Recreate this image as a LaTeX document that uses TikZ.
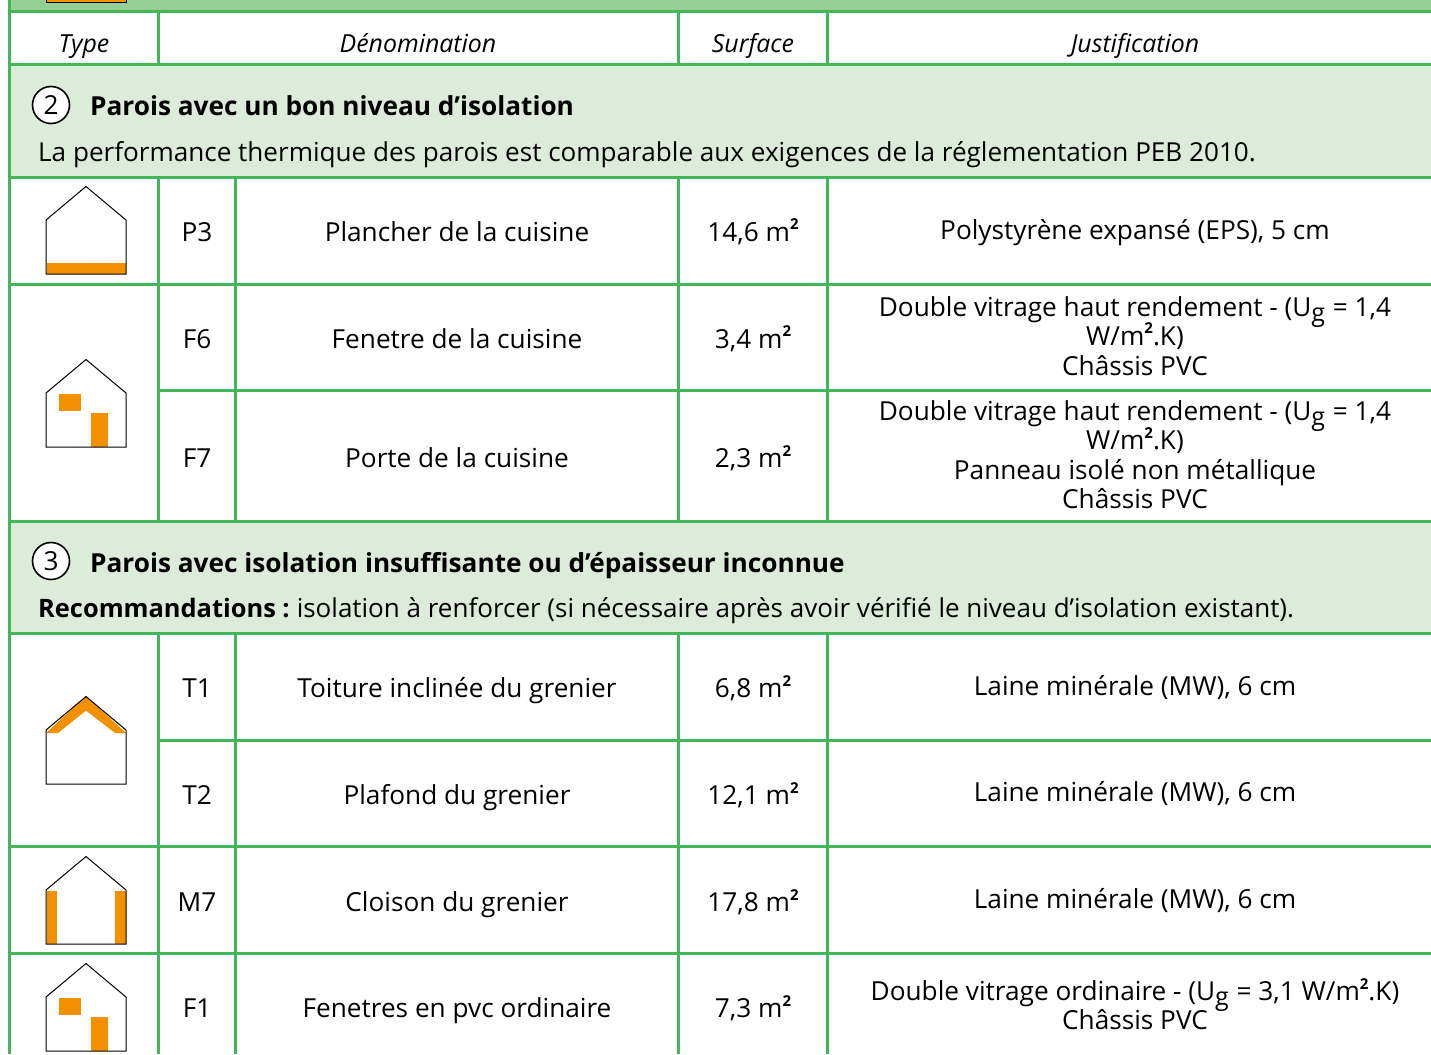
\documentclass[tikz,border=0pt]{standalone}
\usepackage{fontspec}
\setmainfont{Open Sans}
\definecolor{gline}{HTML}{45B658}
\definecolor{gband}{HTML}{DBECD8}
\definecolor{gtop}{HTML}{94CF94}
\definecolor{orng}{HTML}{F39000}
\newcommand{\txt}[1]{\fontsize{26.2}{30}\selectfont #1}
\newcommand{\sq}{\raisebox{0.42em}{\fontsize{15}{15}\selectfont\bfseries 2}}
\newcommand{\Ug}{U\raisebox{-0.22em}{\fontsize{25}{25}\selectfont g}\hspace{1pt}}
\tikzset{
 x=1pt,y=-1pt,
 grid/.style={draw=gline,line width=3pt},
 cell/.style={inner sep=0pt,anchor=base,text=black,font=\txt{}},
 lefttxt/.style={inner sep=0pt,anchor=base west,text=black,font=\fontsize{26.1}{30}\selectfont},
 head/.style={inner sep=0pt,anchor=base,text=black,font=\fontsize{24.9}{28}\selectfont\itshape},
 bold/.style={inner sep=0pt,anchor=base west,text=black,font=\fontsize{26.2}{30}\selectfont\bfseries},
 num/.style={circle,draw=black,line width=1.6pt,fill=white,minimum size=37pt,inner sep=0pt,font=\txt{}},
 hs/.style={draw=black,line width=1pt,line join=miter},
 ins/.style={fill=orng,draw=none},
}
\newcommand{\house}[1]{% apex y
 \draw[hs] (46,#1+33.5) -- (86,#1) -- (126,#1+33.5) -- (126,#1+87.5) -- (46,#1+87.5) -- cycle;
}
\newcommand{\wdws}[1]{%
 \fill[ins] (59,#1+34) rectangle (81,#1+51);
 \fill[ins] (91,#1+53) rectangle (108,#1+87);
 \house{#1}
}
\begin{document}
\begin{tikzpicture}
\useasboundingbox (0,0) rectangle (1431,1054);
\fill[white] (0,0) rectangle (1431,1054);
% bands
\fill[gtop] (9,0) rectangle (1431,12);
\fill[gband] (9,65) rectangle (1431,177);
\fill[gband] (9,521) rectangle (1431,633);
% top house remnant
\fill[orng] (46,-2) rectangle (126,3);
\draw[hs] (46,-2) -- (46,3) -- (126,3) -- (126,-2);
% grid
\foreach \y in {12,65,177,284,521,633,846,953} \draw[grid] (8,\y) -- (1431,\y);
\foreach \y in {390,740} \draw[grid] (158,\y) -- (1431,\y);
\draw[grid] (9,0) -- (9,1054);
\foreach \x in {158,678,827} {
 \draw[grid] (\x,12) -- (\x,65);
 \draw[grid] (\x,177) -- (\x,521);
 \draw[grid] (\x,633) -- (\x,1054);
}
\draw[grid] (235,177) -- (235,521);
\draw[grid] (235,633) -- (235,1054);
% header
\node[head] (hType) at (84,52.5) {Type};
\node[head] (hDen) at (418,52.5) {Dénomination};
\node[head] (hSur) at (753,52.5) {Surface};
\node[head] (hJus) at (1135,52.5) {Justification};
% section 2
\node[num] (n2) at (51,105) {2};
\node[bold] (s2) at (90,116) {Parois avec un bon niveau d’isolation};
\node[lefttxt] (s2b) at (38,161) {La performance thermique des parois est comparable aux exigences de la réglementation PEB 2010.};
% section 3
\node[num] (n3) at (51,561) {3};
\node[bold] (s3) at (90,572) {Parois avec isolation insuffisante ou d’épaisseur inconnue};
\node[lefttxt] (s3b) at (38,617) {{\fontsize{25.4}{30}\selectfont\bfseries Recommandations :}\hspace{-2pt}{\fontsize{26}{30}\selectfont{} isolation à renforcer (si nécessaire après avoir vérifié le niveau d’isolation existant).}};
% houses
\fill[ins] (47,263) rectangle (126,274);
\house{186.5}
\wdws{359.5}
\fill[ins] (46,733) -- (86,696) -- (126,733) -- (115,733) -- (86,710.5) -- (58,733) -- cycle;
\house{696.5}
\fill[ins] (47,891) rectangle (57,944);
\fill[ins] (115,891) rectangle (126,944);
\house{856.5}
\wdws{963.5}
% rows
\begin{scope}[yshift=-0.5pt]
\node[cell] (c1) at (197,240.5) {P3};
\node[cell] (d1) at (457,240.5) {Plancher de la cuisine};
\node[cell] (a1) at (753,240.5) {14,6 m\sq};
\node[cell] (j1) at (1135,238.5) {Polystyrène expansé (EPS), 5 cm};
\node[cell] (c2) at (197,347.5) {F6};
\node[cell] (d2) at (457,347.5) {Fenetre de la cuisine};
\node[cell] (a2) at (753,347.5) {3,4 m\sq};
\node[cell] (j2a) at (1135,315.5) {Double vitrage haut rendement - (\Ug{} = 1,4};
\node[cell] (j2b) at (1135,344.5) {W/m\sq.K)};
\node[cell] (j2c) at (1135,374.5) {Châssis PVC};
\node[cell] (c3) at (197,466.5) {F7};
\node[cell] (d3) at (457,466.5) {Porte de la cuisine};
\node[cell] (a3) at (753,466.5) {2,3 m\sq};
\node[cell] (j3a) at (1135,419.5) {Double vitrage haut rendement - (\Ug{} = 1,4};
\node[cell] (j3b) at (1135,448.5) {W/m\sq.K)};
\node[cell] (j3c) at (1135,478.5) {Panneau isolé non métallique};
\node[cell] (j3d) at (1135,507.5) {Châssis PVC};
\node[cell] (c4) at (197,696.5) {T1};
\node[cell] (d4) at (457,696.5) {Toiture inclinée du grenier};
\node[cell] (a4) at (753,696.5) {6,8 m\sq};
\node[cell] (j4) at (1135,694.5) {Laine minérale (MW), 6 cm};
\node[cell] (c5) at (197,803.5) {T2};
\node[cell] (d5) at (457,803.5) {Plafond du grenier};
\node[cell] (a5) at (753,803.5) {12,1 m\sq};
\node[cell] (j5) at (1135,800.5) {Laine minérale (MW), 6 cm};
\node[cell] (c6) at (197,910.5) {M7};
\node[cell] (d6) at (457,910.5) {Cloison du grenier};
\node[cell] (a6) at (753,910.5) {17,8 m\sq};
\node[cell] (j6) at (1135,907.5) {Laine minérale (MW), 6 cm};
\node[cell] (c7) at (197,1016.5) {F1};
\node[cell] (d7) at (457,1016.5) {Fenetres en pvc ordinaire};
\node[cell] (a7) at (753,1016.5) {7,3 m\sq};
\node[cell] (j7a) at (1135,999.5) {Double vitrage ordinaire - (\Ug{} = 3,1 W/m\sq.K)};
\node[cell] (j7b) at (1135,1028.5) {Châssis PVC};
\end{scope}
\end{tikzpicture}
\end{document}
